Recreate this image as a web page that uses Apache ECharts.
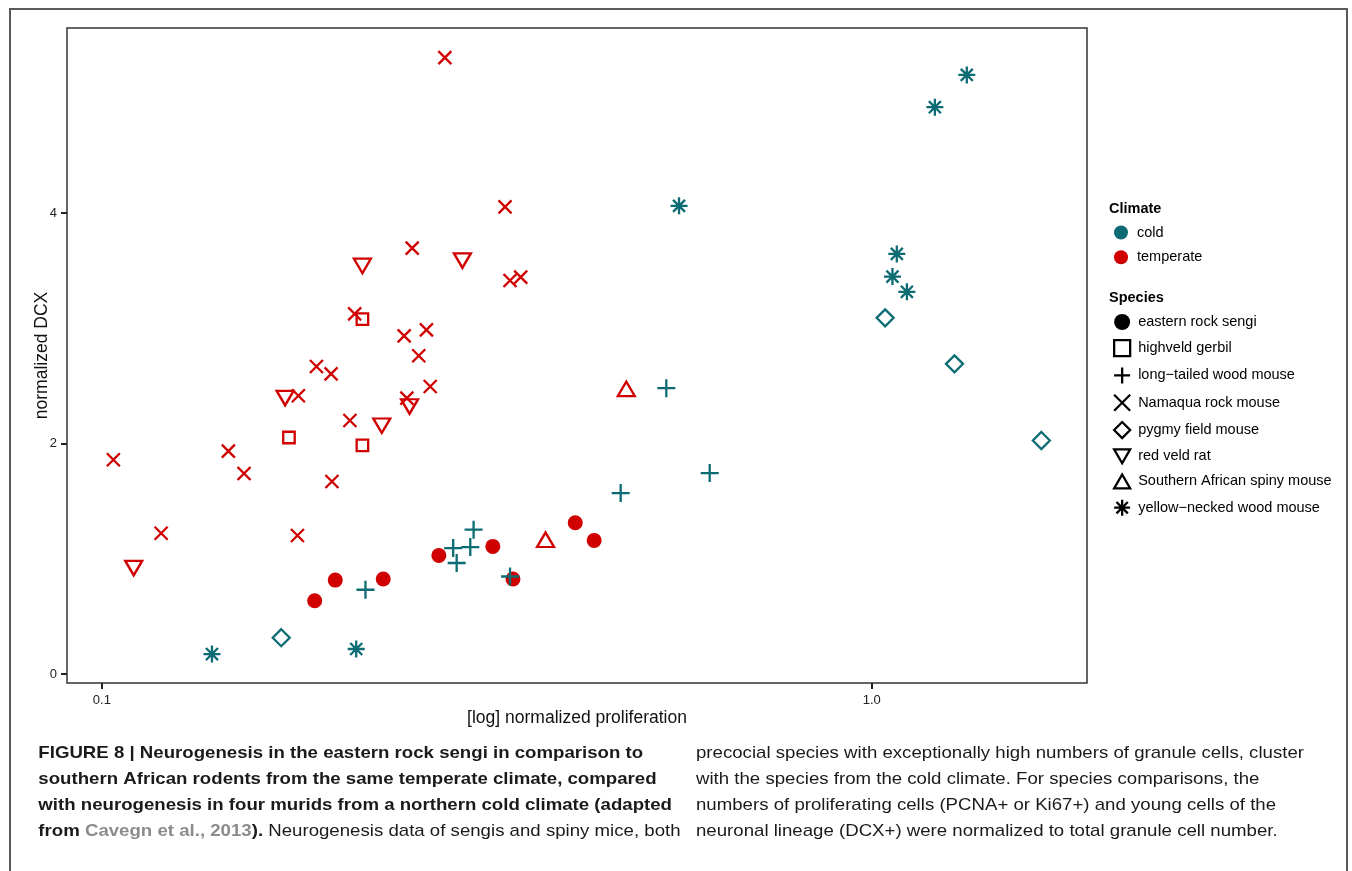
<!DOCTYPE html>
<html>
<head>
<meta charset="utf-8">
<script src="https://cdn.jsdelivr.net/npm/echarts@6/dist/echarts.min.js"></script>
<style>
html,body{margin:0;padding:0;background:#fff;}
#chart{width:1352px;height:871px;}
</style>
</head>
<body>
<div id="chart"></div>
<script>
// ---- tick values / labels ----
const xTickValues = [0.1, 1.0];
const xTickLabels = ['0.1', '1.0'];
const yTickValues = [0, 2, 4];

// ---- data: [normalized proliferation, normalized DCX] ----
const easternRockSengi = [[0.189,0.636],[0.201,0.815],[0.232,0.824],[0.274,1.029],[0.322,1.107],[0.342,0.824],[0.412,1.312],[0.436,1.159]];
const highveldGerbil = [[0.218,3.079],[0.175,2.052],[0.218,1.983]];
const namaquaRockMouse = [[0.279,5.348],[0.334,4.053],[0.253,3.695],[0.339,3.414],[0.350,3.443],[0.213,3.125],[0.247,2.934],[0.264,2.986],[0.258,2.761],[0.190,2.668],[0.1985,2.604],[0.180,2.414],[0.267,2.494],[0.249,2.394],[0.210,2.200],[0.146,1.934],[0.153,1.740],[0.199,1.670],[0.1035,1.859],[0.1194,1.221],[0.1795,1.202]];
const redVeldRat = [[0.218,3.541],[0.294,3.587],[0.173,2.394],[0.251,2.321],[0.231,2.154],[0.110,0.919]];
const southernAfricanSpinyMouse = [[0.377,1.165],[0.480,2.474]];
const longTailedWoodMouse = [[0.304,1.252],[0.286,1.093],[0.301,1.101],[0.289,0.963],[0.339,0.846],[0.220,0.731],[0.472,1.570],[0.541,2.480],[0.616,1.743]];
const pygmyFieldMouse = [[0.171,0.315],[1.041,3.090],[1.281,2.691],[1.661,2.026]];
const yellowNeckedWoodMouse = [[0.139,0.173],[0.214,0.217],[0.562,4.062],[1.078,3.645],[1.064,3.448],[1.111,3.316],[1.208,4.918],[1.329,5.198]];

const climates = ['cold', 'temperate'];
const speciesNames = ['eastern rock sengi','highveld gerbil','long\u2212tailed wood mouse','Namaqua rock mouse','pygmy field mouse','red veld rat','Southern African spiny mouse','yellow\u2212necked wood mouse'];

// ---- styles ----
const COLORS = { cold: '#0d6c73', temperate: '#d10000' };
const FONT = '"Liberation Sans", Arial, Helvetica, sans-serif';
const LW = 2.3;
const SYM = {
  circle: 'circle',
  square: 'rect',
  plus: 'path://M0,10L20,10M10,0L10,20',
  cross: 'path://M0,0L20,20M20,0L0,20',
  diamond: 'diamond',
  down: 'path://M0,0L20,0L10,17.32Z',
  up: 'path://M10,0L20,17.32L0,17.32Z',
  star: 'path://M10,0L10,20M0,10L20,10M2.93,2.93L17.07,17.07M17.07,2.93L2.93,17.07'
};
const speciesDefs = [
  { name: speciesNames[0], data: easternRockSengi, climate: 'temperate', sym: 'circle', size: 15, filled: true },
  { name: speciesNames[1], data: highveldGerbil, climate: 'temperate', sym: 'square', size: 11.5 },
  { name: speciesNames[3], data: namaquaRockMouse, climate: 'temperate', sym: 'cross', size: 13 },
  { name: speciesNames[5], data: redVeldRat, climate: 'temperate', sym: 'down', size: [17, 14.5] },
  { name: speciesNames[6], data: southernAfricanSpinyMouse, climate: 'temperate', sym: 'up', size: [17, 14.5] },
  { name: speciesNames[2], data: longTailedWoodMouse, climate: 'cold', sym: 'plus', size: 18 },
  { name: speciesNames[4], data: pygmyFieldMouse, climate: 'cold', sym: 'diamond', size: 17 },
  { name: speciesNames[7], data: yellowNeckedWoodMouse, climate: 'cold', sym: 'star', size: 17 }
];
const legendSym = {};
speciesDefs.forEach(d => legendSym[d.name] = d);

function styleFor(color, filled) {
  return filled ? { color: color, borderWidth: 0, opacity: 1 }
                : { color: 'rgba(0,0,0,0)', borderColor: color, borderWidth: LW, opacity: 1 };
}

const series = speciesDefs.map(d => ({
  type: 'scatter',
  name: d.name,
  data: d.data,
  symbol: SYM[d.sym],
  symbolSize: d.size,
  itemStyle: styleFor(COLORS[d.climate], d.filled),
  emphasis: { disabled: true },
  silent: true
}));
climates.forEach(c => series.push({ type: 'scatter', name: c, data: [], itemStyle: { color: COLORS[c], opacity: 1 } }));

// ---- caption ----
const leftLines = [
  'FIGURE 8 | Neurogenesis in the eastern rock sengi in comparison to',
  'southern African rodents from the same temperate climate, compared',
  'with neurogenesis in four murids from a northern cold climate (adapted'
];
const leftLast = ['from ', 'Cavegn et al., 2013', ').', ' Neurogenesis data of sengis and spiny mice, both'];
const rightLines = [
  'precocial species with exceptionally high numbers of granule cells, cluster',
  'with the species from the cold climate. For species comparisons, the',
  'numbers of proliferating cells (PCNA+ or Ki67+) and young cells of the',
  'neuronal lineage (DCX+) were normalized to total granule cell number.'
];
const capSize = 17;
function measure(text, font) {
  const c = document.createElement('canvas').getContext('2d');
  c.font = font; return c.measureText(text).width;
}
const kx = 608 / measure(rightLines[0], capSize + 'px "Liberation Sans"');
const leftX = 672 - kx * measure(leftLines[2], 'bold ' + capSize + 'px "Liberation Sans"');
const rightX = 696;
const lineYs = [753, 779, 805, 831];

const graphics = [];
graphics.push({ type: 'polyline', shape: { points: [[10, 871], [10, 9], [1347, 9], [1347, 871]] },
  style: { stroke: '#5a5a5a', lineWidth: 2, fill: null }, silent: true });
graphics.push({ type: 'text', x: 1109, y: 209, style: { text: 'Climate', fontFamily: FONT, fontSize: 14.5, fontWeight: 'bold', fill: '#000', verticalAlign: 'middle' } });
graphics.push({ type: 'text', x: 1109, y: 298, style: { text: 'Species', fontFamily: FONT, fontSize: 14.5, fontWeight: 'bold', fill: '#000', verticalAlign: 'middle' } });
leftLines.forEach((t, i) => graphics.push({ type: 'text', x: leftX, y: lineYs[i], scaleX: kx,
  style: { text: t, fontFamily: FONT, fontSize: capSize, fontWeight: 'bold', fill: '#1a1a1a', verticalAlign: 'middle' } }));
graphics.push({ type: 'text', x: leftX, y: lineYs[3], scaleX: kx,
  style: { text: '{b|' + leftLast[0] + '}{g|' + leftLast[1] + '}{b|' + leftLast[2] + '}{r|' + leftLast[3] + '}',
    fontFamily: FONT, fontSize: capSize, verticalAlign: 'middle',
    rich: {
      b: { fontFamily: FONT, fontSize: capSize, fontWeight: 'bold', fill: '#1a1a1a' },
      g: { fontFamily: FONT, fontSize: capSize, fontWeight: 'bold', fill: '#8c8c8c' },
      r: { fontFamily: FONT, fontSize: capSize, fontWeight: 'normal', fill: '#1a1a1a' }
    } } });
rightLines.forEach((t, i) => graphics.push({ type: 'text', x: rightX, y: lineYs[i], scaleX: kx,
  style: { text: t, fontFamily: FONT, fontSize: capSize, fill: '#1a1a1a', verticalAlign: 'middle' } }));

function legendItem(name) {
  const d = legendSym[name];
  return { name: name, icon: SYM[d.sym],
    itemStyle: d.filled ? { color: '#000', borderWidth: 0, opacity: 1 }
                        : { color: 'rgba(0,0,0,0)', borderColor: '#000', borderWidth: LW, opacity: 1 } };
}

const chart = echarts.init(document.getElementById('chart'), null, { renderer: 'canvas' });
chart.setOption({
  animation: false,
  backgroundColor: '#fff',
  textStyle: { fontFamily: FONT },
  grid: { left: 67, top: 28, width: 1020, height: 655, show: true, borderColor: '#333', borderWidth: 1.5, backgroundColor: '#fff', containLabel: false },
  xAxis: {
    type: 'log', logBase: 10, min: 0.0901, max: 1.904,
    name: '[log] normalized proliferation', nameLocation: 'middle', nameGap: 26, nameMoveOverlap: false,
    nameTextStyle: { fontFamily: FONT, fontSize: 17.5, color: '#111' },
    axisLine: { show: false, onZero: false },
    axisTick: { show: true, customValues: xTickValues, length: 6, lineStyle: { color: '#222', width: 2 } },
    axisLabel: { customValues: xTickValues, margin: 11, fontFamily: FONT, fontSize: 13, color: '#222',
      formatter: v => { const i = xTickValues.findIndex(t => Math.abs(Math.log10(t) - Math.log10(v)) < 1e-6); return i >= 0 ? xTickLabels[i] : ''; } },
    splitLine: { show: false }, minorTick: { show: false }
  },
  yAxis: {
    type: 'value', min: -0.078, max: 5.605,
    name: 'normalized DCX', nameLocation: 'middle', nameGap: 16, nameMoveOverlap: false,
    nameTextStyle: { fontFamily: FONT, fontSize: 17.5, color: '#111' },
    axisLine: { show: false, onZero: false },
    axisTick: { show: true, customValues: yTickValues, length: 6, lineStyle: { color: '#222', width: 2 } },
    axisLabel: { customValues: yTickValues, margin: 10, fontFamily: FONT, fontSize: 13, color: '#222' },
    splitLine: { show: false }
  },
  legend: [
    { orient: 'vertical', left: 1114, top: 225, padding: 0, itemGap: 9.8, itemWidth: 14, itemHeight: 14,
      selectedMode: false,
      textStyle: { fontFamily: FONT, fontSize: 14.5, color: '#000', lineHeight: 14, padding: [0, 0, 0, 4] },
      data: climates.map(c => ({ name: c, icon: 'circle', itemStyle: { color: COLORS[c], borderWidth: 0, opacity: 1 } })) },
    { orient: 'vertical', left: 1113, top: 314, padding: 0, itemGap: 9, itemWidth: 16, itemHeight: 16,
      selectedMode: false,
      textStyle: { fontFamily: FONT, fontSize: 14.5, color: '#000', lineHeight: 14, padding: [0, 0, 0, 3] },
      data: speciesNames.map(legendItem) }
  ],
  graphic: graphics,
  series: series
});
</script>
</body>
</html>
